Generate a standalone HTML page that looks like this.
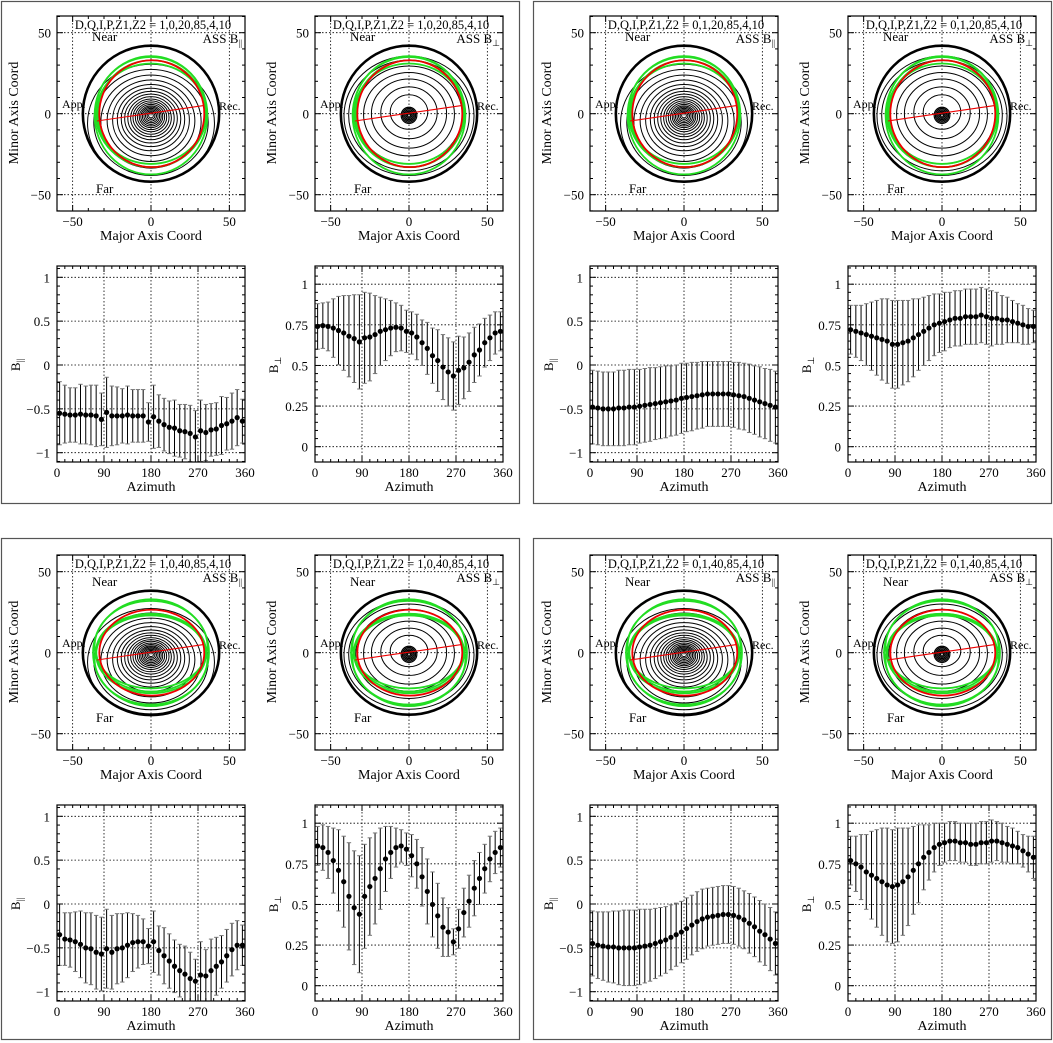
<!DOCTYPE html>
<html><head><meta charset="utf-8">
<style>
html,body{margin:0;padding:0;background:#fff;}
svg{display:block;font-family:"Liberation Serif",serif;}
</style></head>
<body>
<svg id="fig" width="1053" height="1043" viewBox="0 0 1053 1043" xmlns="http://www.w3.org/2000/svg"></svg>
<script>
// ---- data (azimuth bins 5..355 step 10) ----
const azimuths = [5,15,25,35,45,55,65,75,85,95,105,115,125,135,145,155,165,175,185,195,205,215,225,235,245,255,265,275,285,295,305,315,325,335,345,355];
const tlParVals = [-0.55,-0.56,-0.57,-0.57,-0.56,-0.57,-0.57,-0.58,-0.62,-0.54,-0.58,-0.58,-0.58,-0.57,-0.58,-0.58,-0.58,-0.65,-0.59,-0.64,-0.68,-0.71,-0.72,-0.75,-0.76,-0.78,-0.82,-0.75,-0.77,-0.74,-0.73,-0.69,-0.67,-0.64,-0.60,-0.64];
const tlParErr = [0.36,0.33,0.31,0.31,0.34,0.33,0.34,0.35,0.30,0.40,0.34,0.33,0.31,0.33,0.30,0.30,0.30,0.22,0.36,0.30,0.30,0.30,0.32,0.30,0.31,0.32,0.30,0.35,0.32,0.30,0.30,0.33,0.30,0.32,0.32,0.25];
const tlPerpVals = [0.74,0.745,0.74,0.73,0.715,0.70,0.68,0.665,0.645,0.67,0.675,0.69,0.71,0.72,0.73,0.735,0.73,0.71,0.70,0.675,0.64,0.605,0.56,0.53,0.49,0.46,0.435,0.47,0.485,0.52,0.565,0.595,0.64,0.67,0.70,0.71];
const tlPerpErr = [0.14,0.14,0.15,0.18,0.21,0.23,0.25,0.27,0.29,0.28,0.27,0.24,0.21,0.19,0.17,0.15,0.14,0.13,0.13,0.14,0.14,0.16,0.17,0.19,0.20,0.21,0.21,0.21,0.19,0.18,0.17,0.16,0.15,0.14,0.13,0.12];
const trParVals = [-0.48,-0.49,-0.50,-0.50,-0.50,-0.49,-0.49,-0.48,-0.48,-0.47,-0.46,-0.45,-0.44,-0.43,-0.42,-0.41,-0.40,-0.38,-0.37,-0.36,-0.35,-0.34,-0.33,-0.33,-0.33,-0.33,-0.33,-0.34,-0.35,-0.36,-0.38,-0.40,-0.42,-0.44,-0.46,-0.48];
const trParErr = [0.42,0.42,0.42,0.42,0.42,0.43,0.43,0.43,0.43,0.42,0.42,0.42,0.41,0.41,0.41,0.40,0.40,0.40,0.39,0.39,0.38,0.38,0.37,0.37,0.37,0.37,0.37,0.37,0.38,0.38,0.39,0.39,0.40,0.40,0.41,0.41];
const trPerpVals = [0.72,0.71,0.70,0.69,0.68,0.67,0.66,0.65,0.63,0.63,0.64,0.65,0.67,0.69,0.71,0.73,0.75,0.76,0.77,0.78,0.79,0.79,0.80,0.80,0.80,0.81,0.80,0.79,0.79,0.78,0.78,0.77,0.76,0.75,0.74,0.74];
const trPerpErr = [0.15,0.16,0.17,0.19,0.21,0.23,0.25,0.26,0.27,0.27,0.26,0.25,0.24,0.22,0.21,0.20,0.19,0.18,0.18,0.17,0.17,0.17,0.17,0.17,0.17,0.17,0.17,0.17,0.16,0.15,0.14,0.13,0.12,0.12,0.11,0.10];
const blParVals = [-0.35,-0.40,-0.41,-0.43,-0.46,-0.50,-0.51,-0.55,-0.57,-0.51,-0.55,-0.51,-0.50,-0.47,-0.44,-0.43,-0.43,-0.48,-0.43,-0.53,-0.59,-0.65,-0.71,-0.76,-0.80,-0.85,-0.88,-0.81,-0.82,-0.76,-0.71,-0.66,-0.59,-0.52,-0.47,-0.47];
const blParErr = [0.35,0.30,0.31,0.34,0.38,0.40,0.41,0.42,0.42,0.45,0.42,0.40,0.39,0.37,0.33,0.30,0.26,0.20,0.35,0.28,0.32,0.31,0.30,0.30,0.32,0.30,0.25,0.38,0.30,0.36,0.33,0.30,0.30,0.30,0.28,0.23];
const blPerpVals = [0.86,0.85,0.82,0.77,0.71,0.64,0.55,0.48,0.44,0.55,0.61,0.66,0.72,0.78,0.82,0.85,0.86,0.84,0.80,0.75,0.67,0.58,0.50,0.43,0.36,0.33,0.27,0.35,0.45,0.52,0.60,0.66,0.72,0.78,0.82,0.85];
const blPerpErr = [0.12,0.14,0.16,0.20,0.25,0.28,0.33,0.35,0.36,0.32,0.30,0.28,0.25,0.20,0.16,0.12,0.10,0.10,0.13,0.15,0.18,0.20,0.20,0.20,0.18,0.15,0.08,0.12,0.15,0.16,0.17,0.16,0.15,0.14,0.13,0.12];
const brParVals = [-0.45,-0.47,-0.48,-0.49,-0.49,-0.50,-0.50,-0.50,-0.50,-0.49,-0.48,-0.47,-0.45,-0.43,-0.41,-0.38,-0.35,-0.32,-0.28,-0.24,-0.20,-0.17,-0.15,-0.14,-0.13,-0.12,-0.12,-0.13,-0.15,-0.18,-0.22,-0.26,-0.31,-0.35,-0.40,-0.45];
const brParErr = [0.37,0.38,0.39,0.40,0.41,0.42,0.43,0.43,0.43,0.43,0.42,0.41,0.40,0.39,0.38,0.37,0.36,0.35,0.35,0.34,0.34,0.34,0.33,0.33,0.33,0.33,0.33,0.33,0.33,0.33,0.34,0.34,0.35,0.35,0.36,0.36];
const brPerpVals = [0.77,0.75,0.73,0.70,0.68,0.66,0.64,0.62,0.61,0.62,0.64,0.67,0.71,0.75,0.79,0.82,0.85,0.87,0.88,0.89,0.89,0.88,0.88,0.87,0.87,0.88,0.88,0.89,0.89,0.88,0.87,0.86,0.85,0.83,0.81,0.79];
const brPerpErr = [0.15,0.17,0.20,0.23,0.27,0.30,0.33,0.35,0.35,0.35,0.33,0.30,0.27,0.24,0.20,0.17,0.15,0.13,0.12,0.12,0.12,0.12,0.12,0.13,0.13,0.13,0.13,0.13,0.12,0.12,0.11,0.11,0.10,0.10,0.11,0.13];
const parTicks = [1,0.5,0,-0.5,-1];
const parTickLabels = ["1","0.5","0","\u22120.5","\u22121"];
const perpTicks = [1,0.75,0.5,0.25,0];
const perpTickLabels = ["1","0.75","0.5","0.25","0"];
const azTicks = [0,90,180,270,360];
const mapTicks = [-50,0,50];
const mapTickLabels = ["\u221250","0","50"];

const NS = "http://www.w3.org/2000/svg";
const svg = document.getElementById('fig');
function mk(tag, attrs, parent, name, inter){
  const e = document.createElementNS(NS, tag);
  for (const k in attrs) e.setAttribute(k, attrs[k]);
  
  
  (parent || svg).appendChild(e);
  return e;
}
function txt(x, y, s, parent, name, opts){
  opts = opts || {};
  const t = mk('text', {x:x, y:y, 'font-size':opts.size||13, 'text-anchor':opts.anchor||'middle', fill:'#000'}, parent, name, false);
  if (opts.rot) t.setAttribute('transform', 'rotate(-90 '+x+' '+y+')');
  t.textContent = s;
  return t;
}

// boxes
const boxes = [[1,1,518,502],[533,1,518,502],[1,538,518,501],[533,538,518,501]];
boxes.forEach((b,i)=>{
  mk('rect',{x:b[0]+0.5,y:b[1]+0.5,width:b[2],height:b[3],fill:'none',stroke:'#555','stroke-width':1.2}, svg, 'panel-box-'+(i+1), false);
});

let clipId = 0;
function mapPanel(ox, oy, code, kind, incl){
  const g = mk('g', {}, svg, 'map-'+kind+'-'+code.replace(/,/g,'-'), false);
  const X0=ox+57, Y0=oy+16, W=188, H=195;
  const sx = u => ox+151 + u*1.567;
  const sy = v => oy+113.7 - v*1.62;
  const cid = 'c'+(clipId++);
  const defs = mk('defs',{},g,'clip-defs',false);
  const cp = mk('clipPath',{id:cid},defs,'clip-path',false);
  mk('rect',{x:X0,y:Y0,width:W,height:H},cp,'clip-rect',false);
  mapTicks.forEach(t=>{
    mk('line',{x1:sx(t),x2:sx(t),y1:Y0,y2:Y0+H,stroke:'#000','stroke-width':0.8,'stroke-dasharray':'1.5,2'},g,'grid-x',false);
    mk('line',{x1:X0,x2:X0+W,y1:sy(t),y2:sy(t),stroke:'#000','stroke-width':0.8,'stroke-dasharray':'1.5,2'},g,'grid-y',false);
  });
  const cg = mk('g',{'clip-path':'url(#'+cid+')'},g,'contours',false);
  const ryF = incl===20 ? 0.965 : 0.88;
  mk('ellipse',{cx:sx(0),cy:sy(0),rx:43.5*1.567,ry:43.5*ryF*1.62,fill:'none',stroke:'#000','stroke-width':2.6},cg,'disk-edge',false);
  if (kind==='par'){
    const rs=[1.5,2.5,3.5,4.5,5.5,6.5,7.5,8.7,10,11.5,13,14.8,16.8,19,21.5,24.5,28,32,36.5,40.5];
    rs.forEach(r=>{
      mk('ellipse',{cx:sx(0),cy:sy(-1-r*0.12),rx:r*1.567,ry:r*ryF*0.93*1.62,fill:'none',stroke:'#000','stroke-width':1},cg,'contour',false);
    });
  } else {
    const rs=[1,1.8,2.6,3.4,4.2,5];
    rs.forEach(r=>{
      mk('ellipse',{cx:sx(0),cy:sy(-1),rx:r*1.567,ry:r*1.62,fill:'none',stroke:'#000','stroke-width':1.2},cg,'contour',false);
    });
    const big=[12,18,24,29,34,38.5,41.5];
    big.forEach(r=>{
      mk('ellipse',{cx:sx(0),cy:sy(2-r*0.08),rx:r*1.567,ry:r*ryF*0.92*1.62,fill:'none',stroke:'#000','stroke-width':1},cg,'contour',false);
    });
  }
  const greens = incl===20 ? [[0,0,35,31],[0,1,35.5,34],[0,-1,36,36.5],[0.5,0,34.5,33]] : [[0,4,36,28],[0,-4,36,28],[0,0,37,33],[0,1,35,23],[0,-1,35,24]];
  greens.forEach(gr=>{
    mk('ellipse',{cx:sx(gr[0]),cy:sy(gr[1]),rx:gr[2]*1.567,ry:gr[3]*1.62,fill:'none',stroke:'#22dd22','stroke-width':1.8},cg,'green-ring',false);
  });
  const rry = incl===20 ? 33 : 26.5;
  mk('ellipse',{cx:sx(0.5),cy:sy(0),rx:33.5*1.567,ry:rry*1.62,fill:'none',stroke:'#ee0000','stroke-width':1.8},cg,'red-ring',false);
  mk('line',{x1:sx(-34.5),y1:sy(-4.5),x2:sx(33.5),y2:sy(5),stroke:'#ee0000','stroke-width':1.1},cg,'major-axis-line',false);
  mk('rect',{x:X0,y:Y0,width:W,height:H,fill:'none',stroke:'#000','stroke-width':1.2},g,'map-frame',false);
  for(let t=-60;t<=60;t+=10){
    const L = (t%50===0)?6:3;
    mk('line',{x1:sx(t),x2:sx(t),y1:Y0,y2:Y0+L,stroke:'#000'},g,'tick',false);
    mk('line',{x1:sx(t),x2:sx(t),y1:Y0+H,y2:Y0+H-L,stroke:'#000'},g,'tick',false);
    mk('line',{x1:X0,x2:X0+L,y1:sy(t),y2:sy(t),stroke:'#000'},g,'tick',false);
    mk('line',{x1:X0+W,x2:X0+W-L,y1:sy(t),y2:sy(t),stroke:'#000'},g,'tick',false);
  }
  mapTicks.forEach((t,i)=>{
    txt(sx(t), Y0+H+15, mapTickLabels[i], g, 'x-tick-label');
    txt(X0-6, sy(t)+5, mapTickLabels[i], g, 'y-tick-label', {anchor:'end'});
  });
  txt(ox+151, oy+240, 'Major Axis Coord', g, 'x-axis-title', {size:14});
  txt(ox+18, oy+113, 'Minor Axis Coord', g, 'y-axis-title', {size:14, rot:true});
  txt(ox+153, oy+29, 'D,Q,I,P,Z1,Z2 = '+code, g, 'params-label', {size:12.5});
  const lab = mk('text',{x:ox+242,y:oy+43,'font-size':13,'text-anchor':'end'},g,'field-label',false);
  lab.textContent='ASS B';
  const sub = document.createElementNS(NS,'tspan');
  sub.setAttribute('font-size','9'); sub.setAttribute('dy','3');
  sub.textContent = kind==='par' ? '||' : '\u22A5';
  lab.appendChild(sub);
  const ny = incl===20 ? 41 : 47, fy = incl===20 ? 193 : 183;
  txt(ox+92, oy+ny, 'Near', g, 'near-label', {anchor:'start'});
  txt(ox+96, oy+fy, 'Far', g, 'far-label', {anchor:'start'});
  txt(ox+62, oy+108, 'App.', g, 'approaching-label', {anchor:'start', size:12});
  txt(ox+219, oy+110, 'Rec.', g, 'receding-label', {anchor:'start', size:12});
}

function linePanel(ox, oy, kind, vals, errs, name){
  const g = mk('g', {}, svg, name, false);
  const X0=ox+57, Y0=oy+266, W=188, H=196;
  const sx = a => X0 + a/360*W;
  const sy = kind==='par' ? (v => oy+365 - v*87.7) : (v => oy+446.7 - v*162.5);
  const ticks = kind==='par'?parTicks:perpTicks, labels = kind==='par'?parTickLabels:perpTickLabels;
  const cid='c'+(clipId++);
  const defs = mk('defs',{},g,'clip-defs',false);
  const cp = mk('clipPath',{id:cid},defs,'clip-path',false);
  mk('rect',{x:X0,y:Y0,width:W,height:H},cp,'clip-rect',false);
  [90,180,270].forEach(a=>mk('line',{x1:sx(a),x2:sx(a),y1:Y0,y2:Y0+H,stroke:'#000','stroke-width':0.8,'stroke-dasharray':'1.5,2'},g,'grid-x',false));
  ticks.forEach(t=>mk('line',{x1:X0,x2:X0+W,y1:sy(t),y2:sy(t),stroke:'#000','stroke-width':0.8,'stroke-dasharray':'1.5,2'},g,'grid-y',false));
  const dg = mk('g',{'clip-path':'url(#'+cid+')'},g,'series',false);
  azimuths.forEach((a,i)=>{
    const x=sx(a), v=vals[i], e=errs[i];
    mk('line',{x1:x,x2:x,y1:sy(v+e),y2:sy(v-e),stroke:'#000','stroke-width':1},dg,'error-bar',false);
    mk('line',{x1:x-2.2,x2:x+2.2,y1:sy(v+e),y2:sy(v+e),stroke:'#777','stroke-width':1},dg,'error-cap',false);
    mk('line',{x1:x-2.2,x2:x+2.2,y1:sy(v-e),y2:sy(v-e),stroke:'#777','stroke-width':1},dg,'error-cap',false);
    mk('circle',{cx:x,cy:sy(v),r:2.6,fill:'#000'},dg,'data-point',false);
  });
  mk('rect',{x:X0,y:Y0,width:W,height:H,fill:'none',stroke:'#000','stroke-width':1.2},g,'plot-frame',false);
  for(let a=0;a<=360;a+=15){
    const L=(a%90===0)?6:3;
    mk('line',{x1:sx(a),x2:sx(a),y1:Y0,y2:Y0+L,stroke:'#000'},g,'tick',false);
    mk('line',{x1:sx(a),x2:sx(a),y1:Y0+H,y2:Y0+H-L,stroke:'#000'},g,'tick',false);
  }
  const step = kind==='par'?0.1:0.05, lo = kind==='par'?-1.1:-0.1, hi = 1.1;
  for(let k=Math.ceil(lo/step); k*step<=hi+1e-9; k++){
    const v=k*step, y=sy(v);
    if (y<Y0||y>Y0+H) continue;
    const major = ticks.some(t=>Math.abs(t-v)<1e-6);
    const L = major?6:3;
    mk('line',{x1:X0,x2:X0+L,y1:y,y2:y,stroke:'#000'},g,'tick',false);
    mk('line',{x1:X0+W,x2:X0+W-L,y1:y,y2:y,stroke:'#000'},g,'tick',false);
  }
  ticks.forEach((t,i)=>txt(X0-7, sy(t)+5, labels[i], g, 'y-tick-label', {anchor:'end'}));
  azTicks.forEach(a=>txt(sx(a), Y0+H+15, String(a), g, 'x-tick-label'));
  txt(ox+151, oy+491, 'Azimuth', g, 'x-axis-title', {size:14});
  const yt = mk('text',{x:ox+20,y:oy+365,'font-size':13,'text-anchor':'middle',transform:'rotate(-90 '+(ox+20)+' '+(oy+365)+')'},g,'y-axis-title',false);
  yt.textContent='B';
  const sb=document.createElementNS(NS,'tspan'); sb.setAttribute('font-size','9'); sb.setAttribute('dy','3');
  sb.textContent = kind==='par'?'||':'\u22A5'; yt.appendChild(sb);
}

const panels = [
  {ox:0,oy:0,code:'1,0,20,85,4,10',incl:20,par:[tlParVals,tlParErr],perp:[tlPerpVals,tlPerpErr],n:'top-left'},
  {ox:533,oy:0,code:'0,1,20,85,4,10',incl:20,par:[trParVals,trParErr],perp:[trPerpVals,trPerpErr],n:'top-right'},
  {ox:0,oy:539,code:'1,0,40,85,4,10',incl:40,par:[blParVals,blParErr],perp:[blPerpVals,blPerpErr],n:'bottom-left'},
  {ox:533,oy:539,code:'0,1,40,85,4,10',incl:40,par:[brParVals,brParErr],perp:[brPerpVals,brPerpErr],n:'bottom-right'}
];
panels.forEach(p=>{
  mapPanel(p.ox, p.oy, p.code, 'par', p.incl);
  mapPanel(p.ox+258, p.oy, p.code, 'perp', p.incl);
  linePanel(p.ox, p.oy, 'par', p.par[0], p.par[1], p.n+'-bpar-plot');
  linePanel(p.ox+258, p.oy, 'perp', p.perp[0], p.perp[1], p.n+'-bperp-plot');
});
</script>
</body></html>
